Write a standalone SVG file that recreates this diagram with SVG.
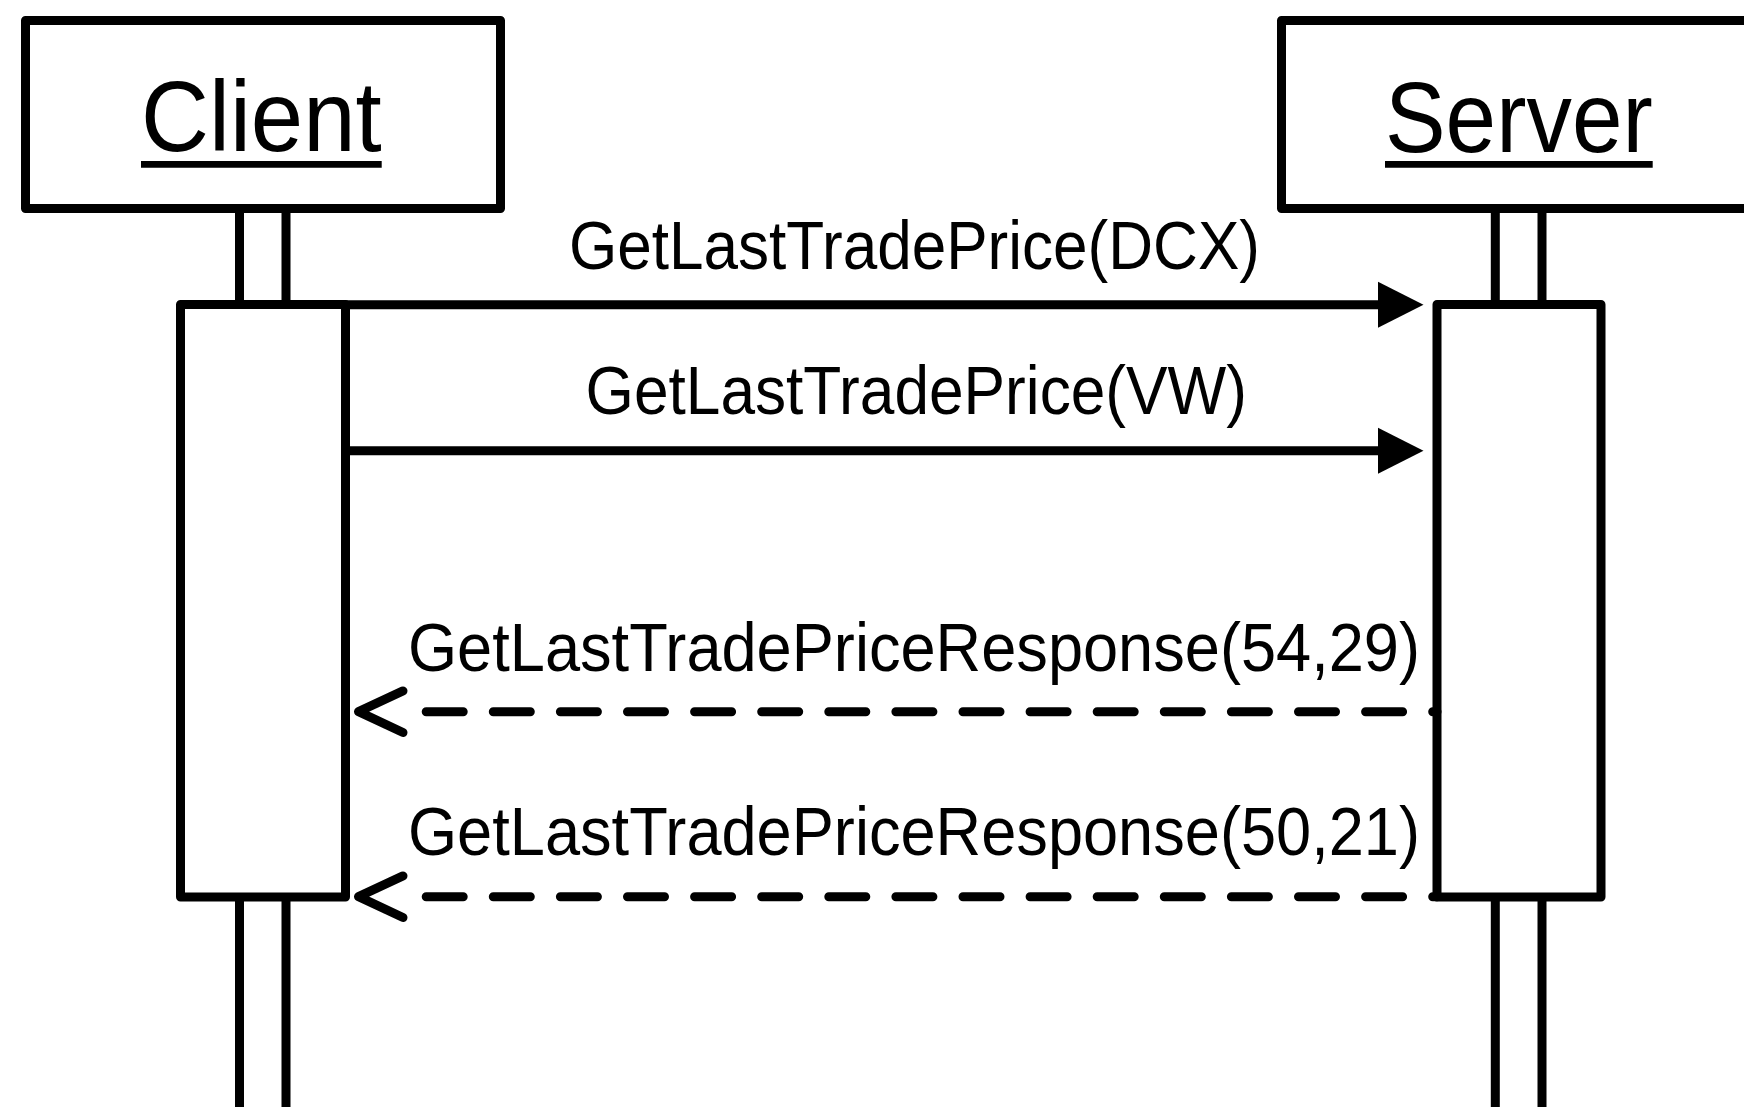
<svg xmlns="http://www.w3.org/2000/svg" width="1744" height="1107" viewBox="0 0 1744 1107">
  <style>
    .shape { fill: #ffffff; stroke: #000000; stroke-width: 9; stroke-linejoin: round; }
    .title { font-family: "Liberation Sans", Arial, sans-serif; font-size: 101px; fill: #000000; }
    .label { font-family: "Liberation Sans", Arial, sans-serif; font-size: 69px; fill: #000000; }
    .uline { stroke: #000000; stroke-width: 6.7; }
    .call { fill: none; stroke: #000000; stroke-width: 9; marker-end: url(#solid-head); }
    .reply { fill: none; stroke: #000000; stroke-width: 9; stroke-linecap: round;
             stroke-dasharray: 37 30.1; stroke-dashoffset: 32.7; marker-end: url(#open-head); }
  </style>
  <defs>
    <marker id="solid-head" markerUnits="userSpaceOnUse" orient="auto" refX="2" refY="0"
            markerWidth="60" markerHeight="60" overflow="visible">
      <path d="M0,-23 L45.5,0 L0,23 Z" fill="#000000"/>
    </marker>
    <marker id="open-head" markerUnits="userSpaceOnUse" orient="auto" refX="0" refY="0"
            markerWidth="80" markerHeight="60" overflow="visible">
      <path d="M23.2,-20.8 L67.7,0 L23.2,20.8" fill="none" stroke="#000000" stroke-width="9"
            stroke-linecap="round" stroke-linejoin="round"/>
    </marker>
  </defs>

  <rect width="1744" height="1107" fill="#ffffff"/>

  <!-- lifelines -->
  <g id="client-lifeline">
    <rect class="shape" x="239.5" y="208.5" width="46.5" height="910"/>
  </g>
  <g id="server-lifeline">
    <rect class="shape" x="1495.3" y="208.5" width="46.7" height="910"/>
  </g>

  <!-- participants -->
  <g id="client">
    <rect class="shape" x="25.5" y="20.5" width="475" height="188"/>
    <text class="title" x="141" y="150.7" textLength="240.7" lengthAdjust="spacingAndGlyphs">Client</text>
    <line class="uline" x1="141" y1="164.3" x2="381.7" y2="164.3"/>
  </g>
  <g id="server">
    <rect class="shape" x="1281.5" y="20.5" width="475" height="188"/>
    <text class="title" x="1385" y="152.3" textLength="267.7" lengthAdjust="spacingAndGlyphs">Server</text>
    <line class="uline" x1="1385" y1="164.3" x2="1652.7" y2="164.3"/>
  </g>

  <!-- activation bars -->
  <g id="client-activation">
    <rect class="shape" x="180.5" y="304.5" width="165" height="592.5"/>
  </g>
  <g id="server-activation">
    <rect class="shape" x="1437" y="304.5" width="164" height="592.5"/>
  </g>

  <!-- messages -->
  <g id="connectors">
    <g id="msg-dcx">
      <path class="call" d="M345.5,304.7 H1380"/>
      <text class="label" x="569" y="269.3" textLength="691" lengthAdjust="spacingAndGlyphs">GetLastTradePrice(DCX)</text>
    </g>
    <g id="msg-vw">
      <path class="call" d="M345.5,450.8 H1380"/>
      <text class="label" x="585.5" y="414.2" textLength="661.5" lengthAdjust="spacingAndGlyphs">GetLastTradePrice(VW)</text>
    </g>
    <g id="reply-dcx">
      <path class="reply" d="M1437,711.7 H426.2"/>
      <text class="label" x="408" y="671" textLength="1012" lengthAdjust="spacingAndGlyphs">GetLastTradePriceResponse(54,29)</text>
    </g>
    <g id="reply-vw">
      <path class="reply" d="M1437,896.7 H426.2"/>
      <text class="label" x="408" y="855" textLength="1012" lengthAdjust="spacingAndGlyphs">GetLastTradePriceResponse(50,21)</text>
    </g>
  </g>
</svg>
